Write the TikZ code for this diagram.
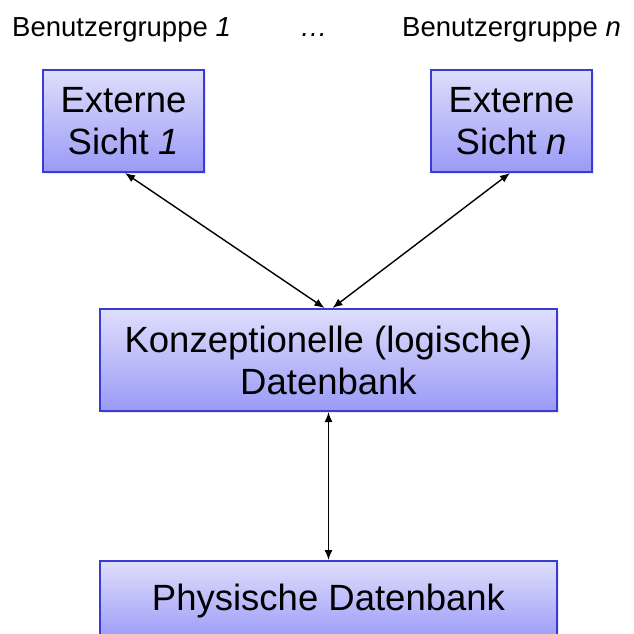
\documentclass[tikz,border=0pt]{standalone}
\usepackage{fontspec}
\setmainfont{Liberation Sans}
\usetikzlibrary{arrows.meta,shadows}

\definecolor{boxtop}{RGB}{222,222,252}
\definecolor{boxbottom}{RGB}{154,154,247}
\definecolor{boxborder}{RGB}{58,58,212}

\tikzset{
    levelbox/.style={draw=boxborder,line width=2pt,top color=boxtop,bottom color=boxbottom,
        align=center,inner sep=0pt,font=\fontsize{36.5}{42}\selectfont,
        drop shadow={shadow xshift=2pt,shadow yshift=-2pt,fill=black!18}},
    grouplabel/.style={inner sep=0pt,font=\fontsize{27.5}{32}\selectfont},
    mapping/.style={{Latex[length=10pt,width=8pt]}-{Latex[length=10pt,width=8pt]},line width=1.4pt}
}

\begin{document}
\begin{tikzpicture}[x=1pt,y=-1pt]
    \useasboundingbox (0,0) rectangle (634,633);
    \clip (0,0) rectangle (634,633);
    % Benutzergruppen
    \node[grouplabel,anchor=base west] (grp1) at (12,36) {Benutzergruppe \textit{1}};
    \node[grouplabel,anchor=base west] (dots) at (300,36) {\textit{…}};
    \node[grouplabel,anchor=base east] (grpn) at (621,36) {Benutzergruppe \textit{n}};
    % Ebenen
    \node[levelbox,minimum width=161pt,minimum height=102pt] (ext1) at (123.5,121) {Externe\\Sicht \textit{1}};
    \node[levelbox,minimum width=161pt,minimum height=102pt] (extn) at (511.5,121) {Externe\\Sicht \textit{n}};
    \node[levelbox,minimum width=457pt,minimum height=102pt] (konz) at (328.5,360) {Konzeptionelle (logische)\\Datenbank};
    \node[levelbox,minimum width=457pt,minimum height=80pt,anchor=north] (phys) at (328.5,560) {Physische Datenbank};
    % Abbildungen
    \draw[mapping] ([xshift=1.5pt]ext1.south) -- ([xshift=-4pt]konz.north);
    \draw[mapping] ([xshift=-1.5pt]extn.south) -- ([xshift=4pt]konz.north);
    \draw[mapping] (konz.south) -- (phys.north);
\end{tikzpicture}
\end{document}
